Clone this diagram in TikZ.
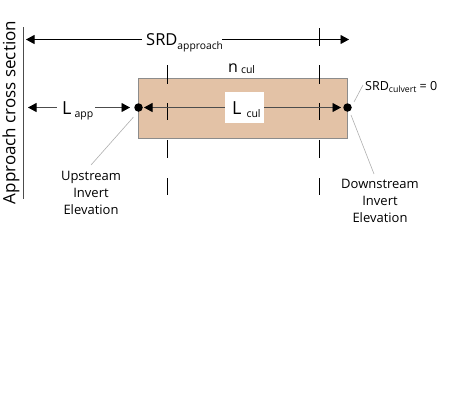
\documentclass[tikz,border=0pt]{standalone}
\usepackage{fontspec}
\setmainfont{Open Sans}
\usetikzlibrary{arrows.meta}
\definecolor{culfill}{RGB}{227,194,166}
\definecolor{culedge}{RGB}{140,140,140}
\definecolor{leadgrey}{RGB}{175,175,175}
\tikzset{
  dimleft/.style={line width=0.8pt,{Triangle[length=8.5pt,width=9pt,black]}-},
  dimright/.style={line width=0.8pt,-{Triangle[length=8.5pt,width=9pt,black]}},
  tick/.style={line width=0.8pt,black},
  leader/.style={line width=0.6pt,leadgrey},
  dot/.style={circle,fill=black,inner sep=0pt,minimum size=8.5pt},
  lbl/.style={inner sep=0pt,font=\fontsize{13}{17}\selectfont,align=center}
}
\begin{document}
\begin{tikzpicture}[x=1pt,y=-1pt]
\useasboundingbox (0,0) rectangle (470,400);
% culvert
\node[draw=culedge,fill=culfill,line width=0.9pt,outer sep=0pt,minimum width=209pt,minimum height=59.5pt,inner sep=0pt,anchor=north west] (cul) at (138.5,78.5) {};
\node[fill=white,outer sep=0pt,minimum width=39pt,minimum height=31pt,inner sep=0pt,anchor=west] (lbox) at (225,107.5) {};
% section line
\coordinate (secT) at (23.5,27);
\coordinate (secB) at (23.5,199);
\draw[line width=0.6pt,black!70] (secT) -- (secB);
\node[rotate=90,inner sep=0pt,font=\fontsize{17}{20}\selectfont] (sec) at (11,112.5) {Approach cross section};
% dots
\node[dot] (up) at (138.5,107.5) {};
\node[dot] (down) at (347.5,107.5) {};
% tick marks
\foreach \n/\x/\a/\b in {a/167.5/65/84,b/167.5/103/120,c/167.5/140/158,d/167.5/178/195,e/319.5/28/46,f/319.5/65/84,g/319.5/103/120,h/319.5/140/158,i/319.5/178/195}{
  \coordinate (\n1) at (\x,\a);
  \coordinate (\n2) at (\x,\b);
  \draw[tick] (\n1) -- (\n2);
}
% SRD approach
\coordinate (srdL) at (26,39.5);
\coordinate (srdR) at (349,39.5);
\node[anchor=base west,inner sep=0pt] (srd) at (146,45) {\fontsize{16.5}{18}\selectfont SRD\raisebox{-4pt}{\fontsize{10.3}{12}\selectfont approach}};
\draw[dimleft] (srdL) -- (142,39.5);
\draw[dimright] (222,39.5) -- (srdR);
% L app
\coordinate (lappL) at (28,107.5);
\coordinate (lappR) at (130,107.5);
\node[anchor=base west,inner sep=0pt] (lapp) at (62,114) {\fontsize{18}{20}\selectfont L\hspace{3pt}\raisebox{-3pt}{\fontsize{10.5}{12}\selectfont app}};
\draw[dimleft,black!70] (lappL) -- (56.5,107.5);
\draw[dimright,black!70] (95,107.5) -- (lappR);
% L cul
\coordinate (lcL) at (144,107.5);
\coordinate (lcR) at (341,107.5);
\draw[dimleft,black!70] (lcL) -- (lbox.west);
\draw[dimright,black!70] (lbox.east) -- (lcR);
\node[anchor=base west,inner sep=0pt] (lcul) at (232,114) {\fontsize{18}{20}\selectfont L\hspace{5pt}\raisebox{-3pt}{\fontsize{10.5}{12}\selectfont cul}};
% n cul
\node[anchor=base west,inner sep=0pt] (ncul) at (228,72) {\fontsize{16}{18}\selectfont n\hspace{3pt}\raisebox{-1pt}{\fontsize{10.5}{12}\selectfont cul}};
% labels
\node[lbl] (upl) at (91,193) {Upstream\\Invert\\Elevation};
\node[lbl] (downl) at (380,201) {Downstream\\Invert\\Elevation};
\node[anchor=base west,inner sep=0pt] (srdc) at (365,90) {\fontsize{12.5}{14}\selectfont SRD\raisebox{-2.5pt}{\fontsize{8.7}{10}\selectfont culvert} = 0};
% leaders
\coordinate (u1) at (133.5,117);
\coordinate (u2) at (91,165);
\coordinate (d1) at (351,115);
\coordinate (d2) at (374,174);
\coordinate (s1) at (354,102);
\coordinate (s2) at (363,85);
\draw[leader] (u1) -- (u2);
\draw[leader] (d1) -- (d2);
\draw[leader] (s1) -- (s2);
\end{tikzpicture}
\end{document}
